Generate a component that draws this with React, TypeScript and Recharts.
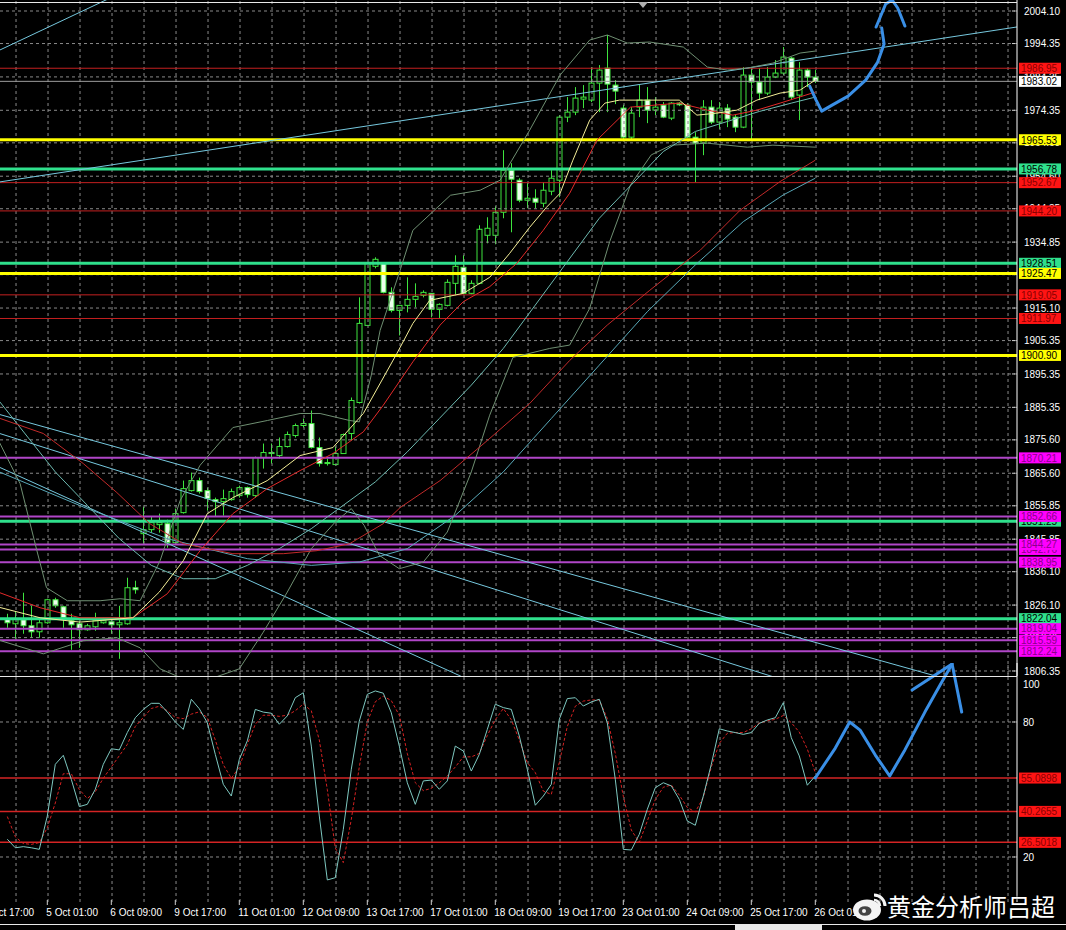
import { ComposedChart, Bar, Line, XAxis, YAxis, ReferenceLine } from 'recharts'

// XAUUSD H4, bar 0 = 4 Oct 21:00 ... bar 101 = 26 Oct 01:00
const opens = [
  1822.0, 1820.5, 1821.7, 1819.9, 1818.1, 1820.8, 1827.7, 1825.6, 1821.4, 1820.5,
  1818.7, 1819.6, 1820.8, 1821.1, 1820.2, 1820.5, 1831.3, 1847.5, 1848.7, 1850.2,
  1850.5, 1844.8, 1853.8, 1860.4, 1863.4, 1860.4, 1857.7, 1857.1, 1857.7, 1858.9,
  1861.3, 1858.9, 1870.3, 1871.8, 1870.9, 1873.6, 1876.9, 1879.9, 1880.5, 1873.3,
  1868.8, 1868.2, 1871.5, 1877.5, 1886.8, 1909.9, 1927.6, 1928.5, 1919.8, 1914.4,
  1915.9, 1917.7, 1918.9, 1919.5, 1914.7, 1915.9, 1922.5, 1927.3, 1919.5, 1922.5,
  1936.9, 1936.9, 1943.8, 1956.4, 1953.4, 1947.4, 1948.0, 1946.5, 1950.1, 1953.4,
  1972.3, 1973.8, 1977.7, 1977.4, 1982.5, 1987.0, 1981.9, 1975.0, 1966.3, 1975.3,
  1977.4, 1974.4, 1975.9, 1972.0, 1976.5, 1975.9, 1966.3, 1964.5, 1975.3, 1970.8,
  1975.0, 1972.3, 1969.3, 1984.9, 1982.8, 1979.5, 1984.3, 1985.5, 1990.0, 1978.9,
  1986.4, 1984.3,
]
const highs = [
  1823.5, 1824.1, 1829.8, 1825.9, 1822.3, 1828.0, 1828.3, 1825.9, 1823.5, 1821.4,
  1820.5, 1823.8, 1822.3, 1822.0, 1825.9, 1834.3, 1833.4, 1855.6, 1852.6, 1853.5,
  1851.7, 1855.0, 1863.4, 1865.8, 1864.3, 1861.3, 1858.3, 1860.7, 1861.0, 1861.9,
  1861.6, 1870.6, 1874.5, 1874.5, 1876.3, 1878.1, 1880.5, 1882.0, 1884.4, 1876.3,
  1870.0, 1873.6, 1877.5, 1888.3, 1918.3, 1928.8, 1930.3, 1928.8, 1921.3, 1916.0,
  1924.3, 1922.5, 1920.4, 1919.5, 1916.5, 1923.7, 1930.9, 1930.9, 1923.4, 1939.9,
  1942.3, 1945.6, 1962.4, 1958.5, 1954.0, 1952.5, 1950.7, 1952.8, 1956.4, 1972.9,
  1978.3, 1981.3, 1981.9, 1987.3, 1987.9, 1996.9, 1983.4, 1976.0, 1975.3, 1981.9,
  1981.3, 1978.3, 1976.8, 1976.8, 1976.8, 1976.5, 1967.8, 1977.4, 1977.4, 1976.8,
  1976.2, 1973.0, 1987.3, 1987.0, 1987.0, 1987.3, 1989.4, 1993.3, 1990.3, 1988.8,
  1987.0, 1986.4,
]
const lows = [
  1819.3, 1816.0, 1817.5, 1816.3, 1816.3, 1820.5, 1825.3, 1819.3, 1812.7, 1813.3,
  1818.4, 1818.4, 1820.5, 1817.5, 1810.0, 1820.2, 1829.5, 1844.5, 1847.8, 1847.8,
  1843.3, 1844.5, 1853.5, 1860.1, 1859.5, 1854.4, 1852.6, 1852.9, 1857.4, 1858.3,
  1858.3, 1858.3, 1867.0, 1868.5, 1870.0, 1873.3, 1876.3, 1879.3, 1873.0, 1867.6,
  1867.9, 1867.9, 1871.5, 1875.4, 1886.5, 1909.9, 1927.0, 1919.5, 1913.8, 1906.9,
  1913.8, 1915.3, 1918.3, 1912.3, 1912.0, 1915.6, 1918.9, 1919.2, 1919.2, 1922.2,
  1934.5, 1934.2, 1942.0, 1937.8, 1946.8, 1945.0, 1945.0, 1945.3, 1948.9, 1948.3,
  1970.8, 1972.9, 1975.0, 1976.8, 1973.8, 1973.8, 1976.2, 1965.4, 1965.6, 1972.3,
  1970.5, 1972.9, 1972.0, 1971.4, 1975.6, 1966.0, 1952.8, 1960.9, 1970.2, 1968.7,
  1969.3, 1967.8, 1969.0, 1965.4, 1977.4, 1978.9, 1984.0, 1984.9, 1977.4, 1971.4,
  1981.3, 1982.5,
]
const closes = [
  1820.8, 1822.0, 1819.9, 1818.1, 1820.8, 1827.7, 1825.9, 1822.3, 1820.2, 1818.7,
  1819.9, 1821.4, 1821.4, 1820.2, 1820.8, 1831.3, 1830.7, 1848.7, 1850.8, 1850.8,
  1844.8, 1853.5, 1861.0, 1863.4, 1860.1, 1858.0, 1857.1, 1858.0, 1860.1, 1861.3,
  1859.2, 1870.3, 1871.8, 1871.5, 1873.6, 1877.2, 1879.9, 1880.5, 1873.3, 1868.5,
  1868.5, 1871.5, 1877.2, 1887.4, 1910.5, 1928.5, 1929.7, 1919.8, 1914.4, 1915.9,
  1917.7, 1918.6, 1919.8, 1914.7, 1916.2, 1922.8, 1927.6, 1919.5, 1922.5, 1938.7,
  1939.0, 1943.8, 1956.4, 1953.7, 1947.4, 1948.0, 1946.8, 1950.4, 1954.0, 1972.3,
  1973.8, 1978.0, 1978.3, 1982.5, 1986.4, 1982.2, 1980.1, 1966.3, 1973.5, 1977.4,
  1974.4, 1975.3, 1972.3, 1976.5, 1976.0, 1966.3, 1964.5, 1975.3, 1970.8, 1975.0,
  1971.7, 1969.3, 1984.9, 1982.8, 1979.5, 1984.3, 1985.5, 1990.3, 1978.3, 1986.4,
  1984.3, 1983.0,
]

const timeLabels = [
  '4 Oct 17:00', '5 Oct 01:00', '6 Oct 09:00', '9 Oct 17:00', '11 Oct 01:00', '12 Oct 09:00',
  '13 Oct 17:00', '17 Oct 01:00', '18 Oct 09:00', '19 Oct 17:00', '23 Oct 01:00',
  '24 Oct 09:00', '25 Oct 17:00', '26 Oct 01:00',
]
const timeLabelBars = [-3, 5, 13, 21, 29, 37, 45, 53, 61, 69, 77, 85, 93, 101]

const priceTicks = [
  2004.1, 1994.35, 1984.35, 1974.35, 1964.6, 1954.6, 1944.85, 1934.85, 1925.1, 1915.1,
  1905.35, 1895.35, 1885.35, 1875.6, 1865.6, 1855.85, 1845.85, 1836.1, 1826.1, 1816.35, 1806.35,
]

// horizontal price levels (drawn in this order)
const levelPrices = [
  1986.95, 1983.02, 1965.53, 1956.78, 1952.67, 1944.2, 1928.51, 1925.47, 1919.05, 1911.97,
  1900.9, 1870.21, 1851.25, 1852.66, 1838.95, 1842.76, 1844.27, 1822.04, 1819.04, 1815.59, 1812.24,
]
const levelKinds = [
  'red', 'price', 'yellow', 'green', 'red', 'red', 'green', 'yellow', 'red', 'red',
  'yellow', 'magenta', 'green', 'magenta', 'magenta', 'magenta', 'magenta', 'green', 'magenta', 'magenta', 'magenta',
]

// indicator lines, [bar, price]
const maFast: [number, number][] = [
  [-1.6, 1825.8], [4.1, 1822.3], [9.1, 1821], [15.7, 1822.3], [19, 1830], [22, 1839.4], [25, 1853.5],
  [28.2, 1858.3], [32.5, 1863.4], [36.6, 1870.9], [40.7, 1873.3], [44.5, 1883.5], [48.7, 1901.5],
  [50.7, 1910.5], [52.8, 1917.4], [57, 1919.5], [60.3, 1924.3], [62.8, 1931.5], [65.3, 1939.3],
  [67.4, 1945.3], [69.1, 1949.5], [70.7, 1959.4], [72.8, 1971.4], [74.7, 1976.5], [76.5, 1977.4],
  [79, 1977.4], [84, 1977.4], [86.2, 1972.9], [88.7, 1973.5], [91.2, 1974.4], [93.7, 1977.4],
  [96.6, 1979.5], [99.1, 1980.4], [101, 1983.4],
]
const maMid: [number, number][] = [
  [-1.6, 1830.4], [4.1, 1825.3], [9.1, 1822.3], [15.7, 1822.3], [20, 1829.5], [24.1, 1842.4],
  [28.2, 1853.5], [32.5, 1861], [36.6, 1866.4], [40.7, 1871.5], [44.5, 1878], [47, 1886],
  [50.7, 1899], [54.1, 1910], [57, 1917], [60.3, 1921.5], [63.7, 1928.5], [67, 1938.4],
  [70.3, 1949.5], [73.7, 1965.4], [77.9, 1975.3], [84, 1976.5], [87.5, 1974.4], [90.7, 1972.9],
  [93.7, 1974.4], [96.6, 1976.5], [101, 1979.8],
]
const maSlow: [number, number][] = [
  [-1.6, 1882.6], [4.5, 1877.5], [9.5, 1868.5], [13.7, 1859.8], [17.8, 1850.5], [22, 1844.5],
  [28.2, 1841.5], [34.5, 1841.5], [38.7, 1842.4], [42.8, 1844.5], [47, 1850.5], [49.1, 1855.3],
  [54.1, 1863.4], [60, 1875.4], [65.3, 1886.5], [70.3, 1899.4], [75, 1910], [80.3, 1920.4],
  [86.6, 1932.4], [91.6, 1944.4], [96.6, 1953], [101, 1959.4],
]
const maTeal: [number, number][] = [
  [-1.6, 1889], [6, 1866], [10, 1856], [14, 1846], [18, 1838], [22, 1834], [26, 1834], [30, 1838],
  [34, 1843], [38, 1849], [42, 1856], [46, 1863], [50, 1872], [54, 1882], [58, 1892], [62, 1903],
  [66, 1916], [70, 1929], [74, 1942], [78, 1952], [82, 1962], [86, 1968], [90, 1971], [94, 1974],
  [98, 1976.5], [101, 1978.3],
]
const maTealSlow: [number, number][] = [
  [-1.6, 1866.6], [10, 1855], [20, 1846], [30, 1840], [38, 1838], [44, 1839], [50, 1843], [56, 1853],
  [62, 1866], [68, 1882], [74, 1898], [80, 1914], [86, 1928], [92, 1941], [97, 1949], [101, 1954],
]
const bandUpper: [number, number][] = [
  [-1.6, 1877.8], [1.6, 1862.5], [3.7, 1842.4], [4.9, 1831.3], [7.5, 1827.4], [11.6, 1827.4],
  [14.1, 1828], [16.6, 1827.4], [19.1, 1839.4], [21.6, 1857.4], [24.1, 1868], [28.2, 1879.3],
  [32.5, 1881.4], [36.6, 1883.5], [39.1, 1883.5], [42.8, 1881.4], [44, 1881], [45.5, 1895],
  [46.6, 1908.4], [49.1, 1926.4], [50.7, 1938.4], [55.4, 1948.9], [59.1, 1950.4], [61.6, 1953.4],
  [65.3, 1968.4], [69.1, 1984.9], [72.8, 1995.4], [75, 1996.9], [77.5, 1994.5], [80.3, 1994.8],
  [84.5, 1993.3], [87.5, 1987.3], [90, 1986.4], [92.5, 1987], [95.7, 1988.5], [99.1, 1991.5], [101, 1992.1],
]
const bandLower: [number, number][] = [
  [-1.6, 1816], [4.5, 1811.5], [9.5, 1815.4], [13.7, 1816.3], [16.6, 1813.3], [19.1, 1807],
  [22, 1804], [26, 1804.5], [29, 1807], [32, 1818], [35, 1830], [38, 1843], [41, 1851], [43, 1855],
  [44.6, 1850], [46.5, 1841], [49, 1837], [52, 1839], [55, 1848], [58, 1866], [60.3, 1883],
  [63.2, 1900.3], [67.8, 1903], [70.3, 1904], [72.8, 1915], [75.3, 1935], [77.9, 1952], [80.5, 1961],
  [83, 1963.9], [87.5, 1964.5], [92.5, 1963.3], [95.7, 1963.9], [101, 1963.3],
]

// trend lines: [bar1, price1, bar2, price2]
const trendLines = [
  [-2, 1952.5, 130, 2000.7],
  [-2, 1991.2, 14, 2009.3],
  [-2, 1883.9, 120, 1802.2],
  [-2, 1878.3, 100, 1801.4],
  [-2, 1868.5, 60, 1801.2],
]

// hand-drawn blue arrows
const arrowMain: [number, number][] = [
  [100.3, 1981.6], [101.1, 1977.4], [101.8, 1974.1], [103.1, 1975.9], [105.1, 1978.6],
  [107.3, 1983.4], [108.8, 1988.8], [109.6, 1994.2], [109.3, 1999.0],
]
const arrowMainHead: [number, number][] = [
  [108.6, 1999.3], [109.8, 2006.2], [110.6, 2007.4], [111.3, 2005.0], [112.2, 1999.6],
]

// stochastic
const stochMain = [
  27.9, 24.1, 24.6, 24.1, 23.4, 38.2, 61.2, 65.2, 54.5, 42.4,
  43.4, 50.1, 61.2, 68.1, 67.6, 75.3, 81.9, 85.6, 88.3, 88.3,
  84.4, 80, 76.7, 90.1, 85.9, 79.7, 65.6, 52.3, 47.1, 63.4,
  71.6, 85.6, 84.4, 83.9, 79, 82.7, 90.8, 93, 69.3, 38.2,
  9.8, 10.8, 32.3, 59, 80.4, 92.3, 93.8, 92.8, 84.1, 69.3,
  53, 43.4, 53.8, 54.2, 50.1, 53.8, 69.3, 67.1, 58.2, 65.6,
  76.7, 87.9, 86.4, 85.6, 73.8, 59, 43, 47.1, 52.3, 81.2,
  90.4, 90.8, 87.1, 88.9, 90.1, 79.7, 54.5, 23.4, 23.1, 30.1,
  41.2, 50.8, 53, 51.6, 45.6, 36, 34.1, 47.1, 61.2, 77,
  76, 75.3, 74.5, 75.3, 79.4, 80.9, 81.9, 88.6, 73, 64.9,
  51.9, 56,
]
const stochSignal = [
  38, 29, 26, 25.6, 26.4, 33, 44, 57, 57, 50,
  46, 49, 55, 60, 65, 70, 78, 82, 86, 87,
  85, 82, 81.5, 83.5, 84.5, 82, 72, 61, 55, 60,
  70, 79, 83, 83, 82.5, 83, 85, 88, 85, 72,
  50, 24, 17.5, 36.7, 60, 80, 89, 91.5, 89.5, 83,
  66, 53, 49.5, 50.5, 53, 56, 60, 64.5, 64.5, 66,
  74, 81, 86, 81, 72, 62, 57.5, 49.3, 47.8, 62,
  78, 87, 89.3, 89.8, 89.8, 81.5, 66, 47, 32, 26.5,
  36, 45.5, 51, 52, 47.5, 42, 40, 46.5, 60, 70.5,
  75, 75.3, 75.3, 77, 79.5, 80.5, 81.2, 82.9, 79.7, 75.5,
  68, 57.5,
]
const stochLevels = [55.0898, 40.2655, 26.5018]
const stochTicks = [100, 80, 20]
const arrowOsc: [number, number][] = [
  [101, 55.1], [103.5, 68.4], [105.3, 80], [106.6, 76.4], [108.5, 65.3], [110.3, 56],
  [112.2, 67.6], [114.7, 84.4], [116.6, 96.4], [118.1, 105.8],
]
const arrowOscHead: [number, number][] = [[113.1, 94.2], [118.1, 105.8], [119.3, 84.4]]

const W = 1066
const PLOT_W = 1017
const BAR_PX = 8
const X_LO = -0.9125
const X_HI = X_LO + PLOT_W / BAR_PX
const P_TOP = 2007.396
const P_BOT = 1804.85
const OSC_TOP = 106.22

const FONT = '"Liberation Sans", Arial, sans-serif'
const GRID = '#8a8a8a'
const CANDLE = '#3ee43e'
const BAND = '#6f8f72'
const BLUE = '#3a8fe6'

const LEVEL_STYLE: Record<string, { line: string; w: number; bg: string; fg: string }> = {
  red: { line: '#c42020', w: 1, bg: '#ff1414', fg: '#8a0000' },
  yellow: { line: '#ffff00', w: 3, bg: '#ffff00', fg: '#000' },
  green: { line: '#2fe08c', w: 3, bg: '#2fe08c', fg: '#000' },
  magenta: { line: '#b046c8', w: 2, bg: '#ff00ff', fg: '#8a008a' },
  price: { line: '#9c9c9c', w: 1, bg: '#ffffff', fg: '#000' },
}

const candles = opens.map((o, i) => ({ i, o, h: highs[i], l: lows[i], c: closes[i], range: [lows[i], highs[i]] }))
const oscRows = stochMain.map((k, i) => ({ i, k, d: stochSignal[i] }))
const gridBars = Array.from({ length: 32 }, (_, k) => 1.09 + 4 * k)
const toPts = (arr: [number, number][]) => arr.map(([i, v]) => ({ i, v }))

function Candle(props: any) {
  const { x, y, width, height, payload } = props
  const { o, h, l, c } = payload
  const hgt = Math.abs(height)
  const top0 = height < 0 ? y + height : y
  const k = h - l > 0 ? hgt / (h - l) : 0
  const cx = Math.round(x + width / 2) + 0.5
  const bTop = top0 + (h - Math.max(o, c)) * k
  const bBot = top0 + (h - Math.min(o, c)) * k
  const bear = c < o
  return (
    <g>
      <line x1={cx} x2={cx} y1={top0} y2={top0 + hgt} stroke={CANDLE} strokeWidth={1} />
      <rect x={cx - 2.5} y={bTop} width={5} height={Math.max(bBot - bTop, 1)} fill={bear ? '#eefeee' : '#000'} stroke={CANDLE} strokeWidth={1} />
    </g>
  )
}

function LevelTag(props: any) {
  const { viewBox, text, bg, fg } = props
  const left = viewBox.x + viewBox.width + 2
  const y = viewBox.y
  return (
    <g>
      <rect x={left} y={y - 5.5} width={42} height={11} fill={bg} />
      <text x={left + 2} y={y + 3.8} fill={fg} fontSize={10} fontFamily={FONT}>{text}</text>
    </g>
  )
}

// price scale text, drawn as the label of each horizontal grid line so that level tags cover it
function ScaleText(props: any) {
  const { viewBox, text } = props
  const x = viewBox.x + viewBox.width
  const y = viewBox.y
  return (
    <g>
      <line x1={x - 5} x2={x - 2} y1={y} y2={y} stroke="#cfcfcf" />
      <text x={x + 7} y={y + 3.6} fill="#fff" fontSize={10} fontFamily={FONT}>{text}</text>
    </g>
  )
}

function OscTick(props: any) {
  const { x, y, payload } = props
  const dy = payload.value === 100 ? 7 : 0
  return (
    <g>
      {payload.value !== 100 && <line x1={x - 12} x2={x - 9} y1={y} y2={y} stroke="#cfcfcf" />}
      <text x={x - 1} y={y + 3.6 + dy} fill="#fff" fontSize={10} fontFamily={FONT}>{payload.value}</text>
    </g>
  )
}

function TimeTick(props: any) {
  const { x, y, payload } = props
  const label = timeLabels[timeLabelBars.indexOf(payload.value)]
  return (
    <g>
      <line x1={x} x2={x} y1={y - 2} y2={y + 3} stroke="#cfcfcf" />
      <text x={x - 1} y={y + 14} fill="#fff" fontSize={10} fontFamily={FONT}>{label}</text>
    </g>
  )
}

export default function App() {
  return (
    <div style={{ position: 'absolute', left: 0, top: 0, width: W, height: 930, background: '#000', overflow: 'hidden' }}>
      {/* main price panel */}
      <div style={{ position: 'absolute', left: 0, top: 0 }}>
        <ComposedChart width={W} height={676} data={candles} margin={{ top: 0, right: 0, bottom: 0, left: 0 }}>
          <XAxis type="number" dataKey="i" domain={[X_LO, X_HI]} allowDataOverflow hide />
          <YAxis
            orientation="right"
            width={49}
            domain={[P_BOT, P_TOP]}
            allowDataOverflow
            ticks={priceTicks}
            tick={false}
            tickLine={false}
            axisLine={{ stroke: '#ffffff' }}
          />
          {priceTicks.map((p) => (
            <ReferenceLine
              key={'h' + p}
              y={p}
              stroke={GRID}
              strokeDasharray="3 3"
              label={<ScaleText text={p.toFixed(2)} />}
            />
          ))}
          {gridBars.map((b) => (
            <ReferenceLine key={'v' + b} x={b} stroke={GRID} strokeDasharray="3 3" />
          ))}
          {levelPrices.map((p, n) => {
            const s = LEVEL_STYLE[levelKinds[n]]
            return (
              <ReferenceLine
                key={'lv' + n}
                y={p}
                stroke={s.line}
                strokeWidth={s.w}
                label={<LevelTag text={p.toFixed(2)} bg={s.bg} fg={s.fg} />}
              />
            )
          })}
          {trendLines.map((t, n) => (
            <ReferenceLine
              key={'t' + n}
              segment={[{ x: t[0], y: t[1] }, { x: t[2], y: t[3] }]}
              stroke="#76c8de"
              strokeWidth={1}
              ifOverflow="hidden"
            />
          ))}
          <Line data={toPts(bandUpper)} dataKey="v" stroke={BAND} strokeWidth={1} dot={false} activeDot={false} isAnimationActive={false} />
          <Line data={toPts(bandLower)} dataKey="v" stroke={BAND} strokeWidth={1} dot={false} activeDot={false} isAnimationActive={false} />
          <Line data={toPts(maTealSlow)} dataKey="v" stroke="#58a8b8" strokeWidth={1} dot={false} activeDot={false} isAnimationActive={false} />
          <Line data={toPts(maTeal)} dataKey="v" stroke="#6db9b0" strokeWidth={1} dot={false} activeDot={false} isAnimationActive={false} />
          <Line data={toPts(maSlow)} dataKey="v" stroke="#c22a2a" strokeWidth={1} dot={false} activeDot={false} isAnimationActive={false} />
          <Line data={toPts(maMid)} dataKey="v" stroke="#e42a2a" strokeWidth={1} dot={false} activeDot={false} isAnimationActive={false} />
          <Line data={toPts(maFast)} dataKey="v" stroke="#f4ee98" strokeWidth={1} dot={false} activeDot={false} isAnimationActive={false} />
          <Bar dataKey="range" barSize={5} shape={(p: any) => <Candle {...p} />} isAnimationActive={false} />
          <Line data={toPts(arrowMain)} dataKey="v" stroke={BLUE} strokeWidth={3} strokeLinecap="round" strokeLinejoin="round" dot={false} activeDot={false} isAnimationActive={false} />
          <Line data={toPts(arrowMainHead)} dataKey="v" stroke={BLUE} strokeWidth={3} strokeLinecap="round" strokeLinejoin="round" dot={false} activeDot={false} isAnimationActive={false} />
        </ComposedChart>
      </div>

      {/* stochastic panel */}
      <div style={{ position: 'absolute', left: 0, top: 655 }}>
        <ComposedChart width={W} height={275} data={oscRows} margin={{ top: 8, right: 0, bottom: 0, left: 0 }}>
          <XAxis
            type="number"
            dataKey="i"
            domain={[X_LO, X_HI]}
            allowDataOverflow
            ticks={timeLabelBars}
            interval={0}
            tick={<TimeTick />}
            tickLine={false}
            tickSize={0}
            tickMargin={0}
            axisLine={false}
            height={28}
          />
          <YAxis
            orientation="right"
            width={49}
            domain={[0, OSC_TOP]}
            allowDataOverflow
            ticks={stochTicks}
            interval={0}
            tick={<OscTick />}
            tickLine={false}
            tickSize={0}
            tickMargin={7}
            axisLine={{ stroke: '#ffffff' }}
          />
          {[80, 20].map((v) => (
            <ReferenceLine key={'oh' + v} y={v} stroke={GRID} strokeDasharray="3 3" />
          ))}
          {gridBars.map((b) => (
            <ReferenceLine key={'ov' + b} x={b} stroke={GRID} strokeDasharray="3 3" />
          ))}
          {stochLevels.map((v) => (
            <ReferenceLine
              key={'sl' + v}
              y={v}
              stroke="#d42424"
              strokeWidth={1.5}
              label={<LevelTag text={v.toFixed(4)} bg="#ff1414" fg="#8a0000" />}
            />
          ))}
          <Line dataKey="d" stroke="#d42222" strokeWidth={1} strokeDasharray="3 2" dot={false} activeDot={false} isAnimationActive={false} />
          <Line dataKey="k" stroke="#7ec8c0" strokeWidth={1} dot={false} activeDot={false} isAnimationActive={false} />
          <Line data={toPts(arrowOsc)} dataKey="v" stroke={BLUE} strokeWidth={3} strokeLinecap="round" strokeLinejoin="round" dot={false} activeDot={false} isAnimationActive={false} />
          <Line data={toPts(arrowOscHead)} dataKey="v" stroke={BLUE} strokeWidth={3} strokeLinecap="round" strokeLinejoin="round" dot={false} activeDot={false} isAnimationActive={false} />
        </ComposedChart>
      </div>

      {/* panel borders */}
      <div style={{ position: 'absolute', left: 0, top: 2, width: PLOT_W, height: 1, background: '#e8e8e8' }} />
      <div style={{ position: 'absolute', left: 0, top: 676, width: PLOT_W, height: 1, background: '#e8e8e8' }} />
      <div style={{ position: 'absolute', left: 0, top: 924, width: W, height: 1, background: '#e8e8e8' }} />
      <div style={{ position: 'absolute', left: 735, top: 925, width: 87, height: 5, background: '#e8e8e8' }} />
      <svg style={{ position: 'absolute', left: 637, top: 2 }} width={12} height={8}>
        <polygon points="1,0 11,0 6,6" fill="#b0b0b0" />
      </svg>

      {/* watermark */}
      <svg style={{ position: 'absolute', left: 851, top: 890 }} width={38} height={34}>
        <ellipse cx={16} cy={20} rx={14} ry={10.5} fill="#f4f4f4" />
        <ellipse cx={14} cy={21} rx={6.5} ry={4.8} fill="#444" />
        <circle cx={13} cy={21} r={2} fill="#f4f4f4" />
        <path d="M23 5 A11 11 0 0 1 34 16" stroke="#f4f4f4" strokeWidth={3} fill="none" />
        <path d="M23 10 A6 6 0 0 1 29 16" stroke="#f4f4f4" strokeWidth={2.5} fill="none" />
      </svg>
      <div
        style={{
          position: 'absolute',
          left: 887,
          top: 891,
          fontFamily: '"Noto Sans CJK SC", sans-serif',
          fontSize: 24,
          lineHeight: '30px',
          color: '#ffffff',
          textShadow: '0 0 2px #000, 0 0 1px #000',
          whiteSpace: 'nowrap',
        }}
      >
        黄金分析师吕超
      </div>
    </div>
  )
}
